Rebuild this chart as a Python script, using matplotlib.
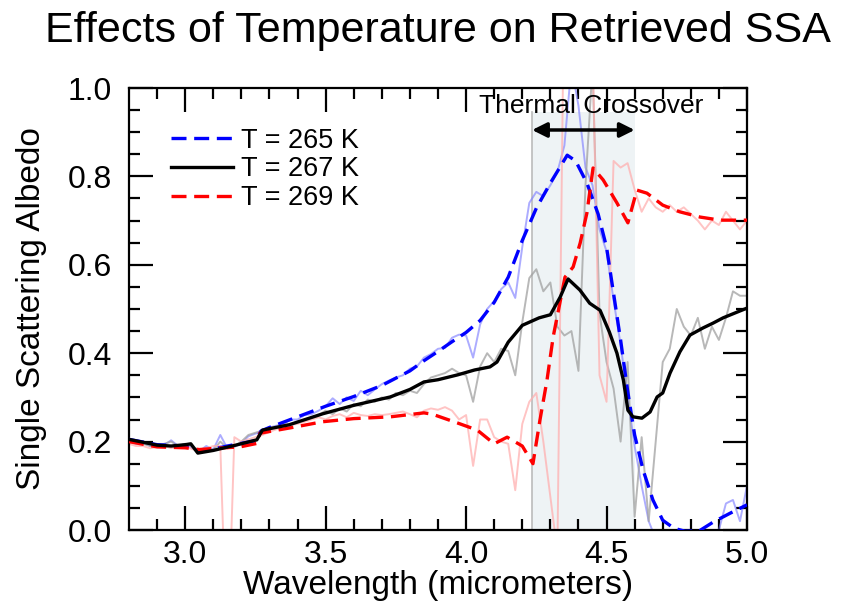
import matplotlib
matplotlib.use("Agg")
import matplotlib.pyplot as plt
import numpy as np

plt.rcParams['font.family'] = ['Liberation Sans', 'DejaVu Sans']

# ---------------- data ----------------
# raw (noisy) retrievals on a common wavelength grid (micrometers)
wl_raw = np.round(np.arange(2.8, 5.0001, 0.025), 3)

raw_265 = [0.200, 0.195, 0.198, 0.190, 0.188, 0.192, 0.203, 0.190, 0.195, 0.185,
           0.178, 0.190, 0.182, 0.215, 0.185, 0.188, 0.196, 0.212, 0.218, 0.222,
           0.232, 0.236, 0.240, 0.250, 0.250, 0.260, 0.262, 0.270, 0.280, 0.298,
           0.285, 0.300, 0.292, 0.315, 0.305, 0.318, 0.330, 0.338, 0.345, 0.350,
           0.365, 0.370, 0.390, 0.398, 0.410, 0.412, 0.435, 0.442, 0.440, 0.390,
           0.465, 0.500, 0.518, 0.545, 0.560, 0.525, 0.640, 0.740, 0.765, 0.755,
           0.780, 0.810, 0.870, 1.050, 0.960, 0.820, 0.780, 0.680, 0.630, 0.520,
           0.420, 0.300, 0.190, 0.100, 0.020, -0.020, -0.020, -0.020, -0.020, -0.020,
           -0.020, -0.020, -0.020, -0.020, 0.000, 0.060, 0.068, 0.020, 0.100]

raw_267 = [0.200, 0.198, 0.195, 0.190, 0.190, 0.195, 0.200, 0.190, 0.195, 0.190,
           0.178, 0.185, 0.180, 0.200, 0.185, 0.190, 0.200, 0.215, 0.220, 0.225,
           0.228, 0.232, 0.238, 0.240, 0.245, 0.250, 0.255, 0.260, 0.270, 0.262,
           0.275, 0.268, 0.285, 0.280, 0.295, 0.290, 0.300, 0.295, 0.310, 0.305,
           0.315, 0.310, 0.330, 0.345, 0.350, 0.355, 0.365, 0.355, 0.350, 0.290,
           0.370, 0.400, 0.380, 0.410, 0.405, 0.350, 0.470, 0.570, 0.590, 0.540,
           0.560, 0.460, 0.440, 0.450, 0.360, 0.780, 1.050, 0.490, 0.380, 0.320,
           0.200, 0.380, 0.030, 0.210, 0.020, 0.200, 0.380, 0.410, 0.500, 0.460,
           0.440, 0.480, 0.410, 0.460, 0.430, 0.480, 0.540, 0.530, 0.530]

raw_269 = [0.195, 0.190, 0.190, 0.185, 0.188, 0.190, 0.185, 0.190, 0.190, 0.183,
           0.180, 0.185, 0.190, 0.190, -0.300, 0.210, 0.200, 0.205, 0.210, 0.215,
           0.222, 0.228, 0.235, 0.238, 0.240, 0.245, 0.250, 0.255, 0.250, 0.258,
           0.262, 0.255, 0.265, 0.260, 0.258, 0.262, 0.260, 0.262, 0.265, 0.268,
           0.262, 0.255, 0.270, 0.275, 0.272, 0.278, 0.270, 0.250, 0.260, 0.145,
           0.250, 0.250, 0.210, 0.200, 0.195, 0.090, 0.240, 0.290, 0.310, 0.200,
           0.075, -0.050, 1.300, 1.200, 1.100, 1.150, 1.100, 0.350, 0.290, 0.835,
           0.820, 0.830, 0.770, 0.720, 0.750, 0.730, 0.720, 0.735, 0.720, 0.730,
           0.715, 0.700, 0.680, 0.700, 0.690, 0.720, 0.700, 0.680, 0.700]

# smoothed retrievals
wl_265 = [2.80, 2.90, 3.00, 3.05, 3.10, 3.15, 3.20, 3.25, 3.27, 3.30, 3.40, 3.50,
          3.60, 3.70, 3.80, 3.85, 3.90, 3.95, 4.00, 4.05, 4.10, 4.15, 4.20, 4.25,
          4.30, 4.36, 4.39, 4.43, 4.47, 4.50, 4.525, 4.55, 4.575, 4.60, 4.63, 4.665,
          4.70, 4.74, 4.78, 4.83, 4.88, 4.94, 5.00]
ssa_265 = [0.205, 0.193, 0.190, 0.178, 0.183, 0.190, 0.196, 0.202, 0.224, 0.232, 0.256, 0.280,
           0.302, 0.327, 0.360, 0.383, 0.404, 0.426, 0.447, 0.474, 0.515, 0.572, 0.655, 0.728,
           0.785, 0.848, 0.835, 0.785, 0.715, 0.640, 0.535, 0.430, 0.315, 0.215, 0.136, 0.068,
           0.022, 0.004, -0.003, -0.002, 0.018, 0.038, 0.057]

wl_267 = [2.80, 2.90, 2.95, 3.00, 3.02, 3.045, 3.10, 3.18, 3.255, 3.275, 3.37, 3.49,
          3.60, 3.73, 3.80, 3.85, 3.90, 3.97, 4.03, 4.085, 4.11, 4.15, 4.20, 4.26,
          4.30, 4.335, 4.363, 4.405, 4.44, 4.477, 4.51, 4.537, 4.56, 4.576, 4.594, 4.626,
          4.655, 4.68, 4.70, 4.726, 4.761, 4.797, 4.843, 4.879, 4.915, 4.965, 5.00]
ssa_267 = [0.205, 0.192, 0.190, 0.193, 0.195, 0.174, 0.180, 0.192, 0.204, 0.226, 0.238, 0.263,
           0.282, 0.301, 0.318, 0.335, 0.340, 0.351, 0.362, 0.369, 0.380, 0.425, 0.463, 0.480,
           0.487, 0.527, 0.568, 0.543, 0.513, 0.497, 0.448, 0.400, 0.339, 0.271, 0.256, 0.253,
           0.267, 0.301, 0.310, 0.355, 0.403, 0.441, 0.457, 0.468, 0.480, 0.493, 0.502]

wl_269 = [2.80, 2.90, 3.00, 3.05, 3.113, 3.195, 3.256, 3.266, 3.373, 3.49, 3.60, 3.73,
          3.85, 3.88, 3.97, 4.04, 4.10, 4.146, 4.20, 4.238, 4.263, 4.288, 4.31, 4.352,
          4.381, 4.406, 4.43, 4.452, 4.488, 4.537, 4.576, 4.608, 4.644, 4.70, 4.76, 4.833,
          4.904, 5.00]
ssa_269 = [0.200, 0.188, 0.186, 0.182, 0.185, 0.188, 0.196, 0.219, 0.231, 0.245, 0.252, 0.256,
           0.265, 0.262, 0.242, 0.226, 0.195, 0.210, 0.190, 0.150, 0.249, 0.339, 0.437, 0.572,
           0.595, 0.649, 0.717, 0.819, 0.792, 0.740, 0.695, 0.769, 0.762, 0.735, 0.720, 0.708,
           0.701, 0.701]

labels = ['T = 265 K', 'T = 267 K', 'T = 269 K']
crossover = (4.235, 4.60)
annot_text = 'Thermal Crossover'

# ---------------- figure ----------------
fig = plt.figure(figsize=(8.44, 6.07), dpi=100)
ax = fig.add_axes([129/844, 77/607, 618/844, 442/607])

ax.axvspan(crossover[0], crossover[1], ymin=0, ymax=0.945, color='#eef3f5', lw=0, zorder=0)
ax.plot([crossover[0], crossover[0]], [0, 0.945], color='#bbbbbb', lw=1.2, zorder=1)

ax.plot(wl_raw, raw_265, color='#8080ff', lw=1.4, alpha=0.65, zorder=2)
ax.plot(wl_raw, raw_267, color='#a0a0a0', lw=1.4, alpha=0.75, zorder=2)
ax.plot(wl_raw, raw_269, color='#ffb0b0', lw=1.4, alpha=0.75, zorder=2)

l1, = ax.plot(wl_265, ssa_265, color='#0000ff', lw=2.4, dashes=(4.5, 2.3), zorder=4, label=labels[0])
l2, = ax.plot(wl_267, ssa_267, color='black', lw=2.4, zorder=5, label=labels[1])
l3, = ax.plot(wl_269, ssa_269, color='#ff0000', lw=2.4, dashes=(4.5, 2.3), zorder=4, label=labels[2])

ax.annotate('', xy=(crossover[0], 0.905), xytext=(crossover[1], 0.905),
            arrowprops=dict(arrowstyle='<|-|>', color='black', lw=2.5, mutation_scale=22,
                            shrinkA=0, shrinkB=0), zorder=6)
ax.text(np.mean(crossover) + 0.028, 0.96, annot_text, ha='center', va='center', fontsize=19, zorder=7)

ax.set_xlim(2.8, 5.0)
ax.set_ylim(0.0, 1.0)
ax.set_xticks([3.0, 3.5, 4.0, 4.5, 5.0])
ax.set_xticks(np.arange(2.9, 5.0, 0.1), minor=True)
ax.set_yticks([0.0, 0.2, 0.4, 0.6, 0.8, 1.0])
ax.set_yticks(np.arange(0.05, 1.0, 0.05), minor=True)
ax.tick_params(which='both', direction='in', top=True, right=True, width=1.6, labelsize=23)
ax.tick_params(axis='y', which='both', pad=12)
ax.tick_params(axis='x', which='both', pad=7)
ax.tick_params(which='major', length=17)
ax.tick_params(which='minor', length=8)
for s in ax.spines.values():
    s.set_linewidth(1.6)

ax.set_xlabel('Wavelength (micrometers)', fontsize=24, labelpad=0)
ax.set_ylabel('Single Scattering Albedo', fontsize=24, labelpad=15)
ax.set_title('Effects of Temperature on Retrieved SSA', fontsize=31, pad=33)

ax.legend(handles=[l1, l2, l3], loc='upper left', bbox_to_anchor=(0.068, 0.91), frameon=False,
          fontsize=19.5, handlelength=2.3, handletextpad=0.3, labelspacing=0.1,
          borderpad=0, borderaxespad=0)

fig.savefig('out.png', dpi=100)
